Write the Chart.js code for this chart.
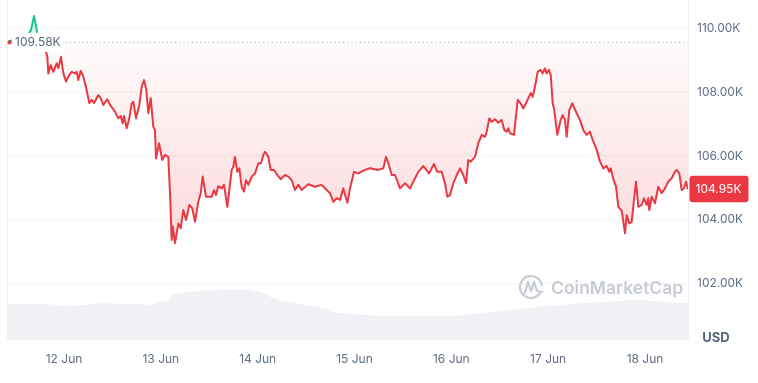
<!DOCTYPE html>
<html><head><meta charset="utf-8">
<script src="https://cdn.jsdelivr.net/npm/chart.js@4.4.1/dist/chart.umd.min.js"></script>
<style>html,body{margin:0;padding:0;background:#fff;overflow:hidden}</style>
</head><body>
<canvas id="c" width="758" height="383" style="display:block;width:758px;height:383px"></canvas>
<script>
// ---- data (prices in thousands USD, time in hours since 12 Jun 00:00) ----
const dayLabels = ['12 Jun','13 Jun','14 Jun','15 Jun','16 Jun','17 Jun','18 Jun'];
const dayTicks = [0,24,48,72,96,120,144];
const priceTicks = [102,104,106,108,110];
const openPrice = 109.58;
const lastPrice = 104.95;
const priceHours = [-14.13,-12.39,-10.91,-9.42,-8.18,-7.44,-6.94,-6.20,-5.20,
-4.14,-3.89,-3.30,-2.65,-1.81,-1.41,-0.74,-0.42,-0.17,0.50,
1.07,1.91,2.73,3.15,3.54,4.14,4.63,5.20,5.77,6.27,
6.87,7.44,8.50,9.10,9.74,10.73,11.40,12.64,13.46,14.05,
14.55,14.87,15.54,16.18,16.78,17.18,17.85,18.66,19.26,19.83,
20.40,20.89,21.49,22.13,22.55,22.80,23.55,24.36,25.03,25.85,
26.27,26.69,26.94,27.51,28.33,28.92,29.57,30.24,31.06,31.80,
32.47,33.29,33.88,34.38,35.19,36.61,37.18,37.67,38.24,39.09,
39.66,40.48,41.56,41.96,42.38,42.95,43.45,44.04,44.61,45.11,
45.68,46.52,47.34,48.16,48.83,49.40,49.82,50.64,51.23,52.05,
52.87,53.71,54.77,55.59,56.43,57.25,58.07,58.91,60.55,62.21,
63.87,65.11,65.93,66.75,67.59,68.41,69.23,70.22,70.89,71.88,
72.94,74.60,75.84,77.90,79.14,79.81,80.38,81.22,82.04,83.28,
84.52,85.76,86.57,87.81,89.05,90.47,91.70,92.52,93.61,94.43,
95.00,95.67,96.49,97.33,98.15,98.97,99.64,100.21,100.80,101.87,
102.69,103.53,104.35,104.77,105.41,106.01,106.83,107.64,108.49,109.13,
109.72,110.12,110.54,111.53,112.45,113.19,113.84,114.68,115.67,116.16,
116.73,117.40,118.15,118.64,119.22,119.64,120.21,120.63,121.12,121.45,
122.27,123.11,123.60,124.17,124.59,125.24,125.98,127.07,127.89,128.71,
129.55,130.37,131.04,132.03,132.85,133.67,134.51,135.15,135.50,136.15,
136.82,137.39,138.23,139.04,139.46,140.11,140.70,141.27,141.77,142.34,
143.18,143.75,144.42,144.81,145.06,145.66,146.47,147.29,148.13,148.95,
149.77,150.61,151.43,151.85,152.50,153.09,153.66,154.16,154.66];
const prices = [109.58,109.64,109.51,109.70,109.95,110.39,110.08,109.51,109.64,
109.11,108.59,108.85,108.64,108.91,108.75,109.11,108.80,108.60,108.33,
108.49,108.64,108.59,108.64,108.38,108.67,108.54,108.29,107.97,107.66,
107.76,107.66,107.91,107.81,107.60,107.78,107.60,107.39,107.18,107.25,
107.02,107.25,106.87,107.18,107.65,107.70,107.18,107.60,108.17,108.38,
108.07,107.34,107.81,106.92,106.81,105.92,106.40,105.87,106.03,105.97,
104.83,103.36,103.78,103.26,103.88,103.73,104.30,103.99,104.46,104.35,
103.93,104.56,104.83,105.35,104.72,104.72,104.93,104.77,105.05,104.98,
105.09,104.40,105.56,105.66,105.97,105.50,105.61,105.03,104.88,105.24,
105.09,105.35,105.45,105.77,105.77,106.03,106.13,105.97,105.56,105.56,
105.40,105.27,105.40,105.35,105.24,104.93,105.09,104.93,105.11,105.03,
105.09,104.93,104.83,104.56,104.67,104.62,104.98,104.53,104.98,105.50,
105.45,105.56,105.61,105.56,105.61,105.97,105.77,105.40,105.40,104.98,
105.14,104.98,105.19,105.50,105.68,105.45,105.75,105.50,105.50,105.14,
104.72,104.77,105.14,105.40,105.61,105.40,105.14,105.87,105.82,105.97,
106.40,106.66,106.60,106.76,107.18,107.07,107.15,107.04,107.13,106.81,
106.76,106.87,106.71,106.66,107.76,107.65,107.49,107.70,107.97,107.86,
108.17,108.64,108.70,108.59,108.75,108.59,108.70,108.54,107.65,107.49,
106.66,107.13,107.28,107.13,106.60,107.44,107.65,107.34,107.13,106.81,
106.66,106.76,106.50,106.19,105.82,105.61,105.68,105.50,105.61,105.27,
105.03,104.40,104.28,103.57,104.14,103.88,103.93,104.62,105.19,104.40,
104.46,104.67,104.46,104.67,104.30,104.72,104.51,105.03,104.83,104.98,
105.19,105.30,105.50,105.56,105.45,104.93,104.98,105.19,104.95];
const volHours = [-14.13,-3.47,-0.25,5.70,8.18,18.84,21.32,23.79,25.78,27.02,28.01,33.71,41.89,46.10,49.32,51.80,54.28,58.49,65.18,66.67,70.89,75.10,78.32,86.50,94.93,103.11,111.28,119.71,127.89,136.07,141.03,144.50,150.20,154.66];
const volumes = [18,17.9,17,17.5,18.4,18,17.5,18.7,19.5,22.5,23.4,24.5,25.4,25,23.4,20.9,19.2,18,15.4,13.7,13,12.5,12,12,11.7,13.4,15,17,18.4,19.2,20,19.7,18.7,18.4];

const RED = '#ea3943', GREEN = '#16c784', GREY = '#616e85';
Chart.defaults.font.family = 'Inter, "Noto Sans", sans-serif';

function fillGrad(c){
  const chart = c.chart; const {chartArea, scales} = chart;
  if (!chartArea) return 'rgba(234,57,67,0.08)';
  const top = chartArea.top;
  const base = scales.y.getPixelForValue(openPrice);
  const low = scales.y.getPixelForValue(103.3);
  const g = chart.ctx.createLinearGradient(0, top, 0, low);
  const f = (base - top) / (low - top);
  g.addColorStop(0, 'rgba(22,199,132,0.35)');
  g.addColorStop(f, 'rgba(22,199,132,0.05)');
  g.addColorStop(f, 'rgba(234,57,67,0.02)');
  g.addColorStop(1, 'rgba(234,57,67,0.19)');
  return g;
}

const overlay = {
  id: 'overlay',
  afterDatasetsDraw(chart){
    const {ctx, chartArea: a, scales} = chart;
    const base = scales.y.getPixelForValue(openPrice);
    ctx.save();
    ctx.strokeStyle = '#eef0f3'; ctx.lineWidth = 1;
    ctx.beginPath();
    ctx.moveTo(a.left + 0.5, a.top); ctx.lineTo(a.left + 0.5, a.bottom);
    ctx.moveTo(a.right + 0.5, a.top); ctx.lineTo(a.right + 0.5, a.bottom);
    ctx.stroke();
    ctx.strokeStyle = '#a6afc0'; ctx.setLineDash([1.2, 3]);
    ctx.beginPath(); ctx.moveTo(a.left, base + 0.5); ctx.lineTo(a.right, base + 0.5); ctx.stroke();
    ctx.setLineDash([]);
    ctx.fillStyle = '#fff';
    ctx.fillRect(a.left + 5, base - 9, 53, 19);
    ctx.fillStyle = RED;
    ctx.beginPath(); ctx.arc(a.left + 2.5, base + 0.5, 2, 0, Math.PI * 2); ctx.fill();
    ctx.font = '12px Inter';
    ctx.fillStyle = '#58667e'; ctx.textBaseline = 'middle'; ctx.textAlign = 'left';
    ctx.fillText(openPrice.toFixed(2) + 'K', a.left + 8, base + 1);
    const ly = scales.y.getPixelForValue(lastPrice);
    ctx.fillStyle = RED;
    ctx.beginPath(); ctx.roundRect(a.right + 1.5, ly - 13.5, 59, 26.5, 3); ctx.fill();
    ctx.fillStyle = '#fff'; ctx.font = '12px Inter';
    ctx.fillText(lastPrice.toFixed(2) + 'K', a.right + 7.5, ly + 0.5);
    ctx.fillStyle = '#58667e'; ctx.font = 'bold 13px Inter'; ctx.textAlign = 'center';
    ctx.fillText('USD', a.right + 28, 338);
    ctx.fillStyle = '#c6cbd4'; ctx.strokeStyle = '#c6cbd4';
    ctx.font = '600 17.5px Inter'; ctx.textAlign = 'left';
    ctx.fillText('CoinMarketCap', 551, 288.5);
    ctx.lineWidth = 2.2; ctx.lineCap = 'round'; ctx.lineJoin = 'round';
    ctx.beginPath(); ctx.arc(531, 287, 11, 0.2 * Math.PI, 1.95 * Math.PI); ctx.stroke();
    ctx.beginPath();
    ctx.moveTo(525, 293); ctx.lineTo(528, 282); ctx.lineTo(531, 291); ctx.lineTo(534, 282); ctx.lineTo(537, 291); ctx.lineTo(542, 292);
    ctx.stroke();
    ctx.restore();
  }
};

const noPad = s => { s.paddingTop = 0; s.paddingBottom = 0; s.paddingLeft = 0; s.paddingRight = 0; };

new Chart(document.getElementById('c').getContext('2d'), {
  type: 'line',
  data: { datasets: [
    { label: 'Price', yAxisID: 'y', order: 1,
      data: priceHours.map((h, i) => ({x: h, y: prices[i]})),
      borderColor: RED, borderWidth: 2, pointRadius: 0, tension: 0,
      borderJoinStyle: 'round',
      fill: { target: { value: openPrice } }, backgroundColor: fillGrad,
      segment: { borderColor: c => ((c.p0.parsed.y + c.p1.parsed.y) / 2 > openPrice ? GREEN : RED) } },
    { label: 'Volume', yAxisID: 'yv', order: 2,
      data: volHours.map((h, i) => ({x: h, y: volumes[i]})),
      borderWidth: 0, borderColor: 'rgba(0,0,0,0)', pointRadius: 0, tension: 0,
      fill: 'origin', backgroundColor: '#eff1f4' }
  ]},
  options: {
    responsive: false, animation: false, devicePixelRatio: 1,
    layout: { padding: { left: 7, right: 0, top: 0, bottom: 0 } },
    plugins: { legend: { display: false }, tooltip: { enabled: false } },
    scales: {
      x: { type: 'linear', min: -14.13, max: 154.66,
        afterBuildTicks: s => { s.ticks = dayTicks.map(v => ({value: v})); },
        ticks: { callback: v => dayLabels[dayTicks.indexOf(v)], padding: 12, color: GREY, font: {size: 12}, maxRotation: 0, autoSkip: false },
        grid: { display: false, drawTicks: false }, border: { display: false },
        afterFit: s => { s.height = 43; noPad(s); } },
      y: { position: 'right', min: 100.22, max: 110.895,
        afterBuildTicks: s => { s.ticks = priceTicks.map(v => ({value: v})); },
        ticks: { callback: v => v.toFixed(2) + 'K', padding: 9, color: GREY, font: {size: 12} },
        grid: { color: '#f3f4f6', drawTicks: false }, border: { display: false },
        afterFit: s => { s.width = 70; noPad(s); } },
      yv: { display: false, min: 0, max: 170 }
    }
  },
  plugins: [overlay]
});
</script>
</body></html>
